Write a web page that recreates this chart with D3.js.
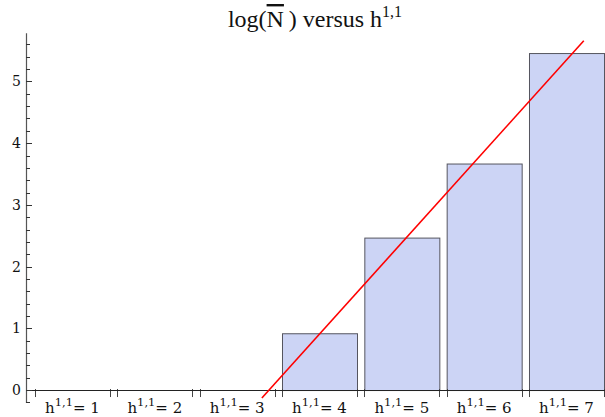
<!DOCTYPE html>
<html>
<head>
<meta charset="utf-8">
<script src="https://cdn.jsdelivr.net/npm/d3@7/dist/d3.min.js"></script>
<style>
  html, body { margin: 0; padding: 0; background: #fff; }
  svg { display: block; }
</style>
</head>
<body>
<svg id="chart" width="605" height="417"></svg>
<script>
// ---- data ----
const categories = [1, 2, 3, 4, 5, 6, 7];          // h^{1,1}
const logNbar = [0, 0, 0, 0.92, 2.47, 3.67, 5.46];  // bar heights
const fitLineH = [3.30, 7.21];                      // fit line endpoints (h)
const fitLineY = [-0.13, 5.66];                     // fit line endpoints (value)
const yTickValues = [0, 1, 2, 3, 4, 5];
const yTickLabels = ["0", "1", "2", "3", "4", "5"];
const xLabelPrefix = "h";
const xLabelSup = "1,1";

// ---- layout ----
const W = 605, H = 417;
const axisX = 26;
const FONT = "'DejaVu Serif', serif";
const TFONT = "'Liberation Serif', 'Times New Roman', serif";
const svg = d3.select("#chart");

const x = d3.scaleBand()
  .domain(categories)
  .range([35, 604])
  .paddingInner(0.089)
  .paddingOuter(0);

const bw = x.bandwidth();
const xLin = d3.scaleLinear()
  .domain([categories[0], categories[categories.length - 1]])
  .range([x(categories[0]) + bw / 2, x(categories[categories.length - 1]) + bw / 2]);

const y = d3.scaleLinear().domain([-0.21, 5.78]).range([403, 33.3]);

// ---- bars ----
const bars = categories.map((c, i) => ({ c, v: logNbar[i] }));
svg.append("g").selectAll("rect")
  .data(bars.filter(d => d.v > 0))
  .join("rect")
  .attr("x", d => x(d.c) + 0.5)
  .attr("y", d => y(d.v) + 0.5)
  .attr("width", bw)
  .attr("height", d => y(0) - y(d.v))
  .attr("fill", "#ccd4f5")
  .attr("stroke", "#55555f")
  .attr("stroke-width", 1);

// bar edge ticks
const edges = [];
categories.forEach(c => { edges.push(x(c)); edges.push(x(c) + bw); });
svg.append("g").selectAll("line")
  .data(edges)
  .join("line")
  .attr("x1", d => Math.round(d) + 0.5)
  .attr("x2", d => Math.round(d) + 0.5)
  .attr("y1", y(0) - 1)
  .attr("y2", y(0) + 7)
  .attr("stroke", "#444")
  .attr("stroke-width", 1);

// x axis line
svg.append("line")
  .attr("x1", axisX).attr("x2", W)
  .attr("y1", Math.round(y(0)) + 0.5).attr("y2", Math.round(y(0)) + 0.5)
  .attr("stroke", "#222").attr("stroke-width", 1);

// ---- y axis ----
const gy = svg.append("g");
gy.append("line")
  .attr("x1", axisX + 0.5).attr("x2", axisX + 0.5)
  .attr("y1", y.range()[1]).attr("y2", y.range()[0])
  .attr("stroke", "#555").attr("stroke-width", 1.2);

const minor = d3.range(-0.2, 5.7, 0.2).map(v => Math.round(v * 10) / 10)
  .filter(v => Math.abs(v - Math.round(v)) > 0.01);
gy.selectAll("line.minor").data(minor).join("line")
  .attr("class", "minor")
  .attr("x1", axisX).attr("x2", axisX + 4)
  .attr("y1", d => Math.round(y(d)) + 0.5).attr("y2", d => Math.round(y(d)) + 0.5)
  .attr("stroke", "#333").attr("stroke-width", 1);
gy.selectAll("line.major").data(yTickValues).join("line")
  .attr("class", "major")
  .attr("x1", axisX).attr("x2", axisX + 6)
  .attr("y1", d => Math.round(y(d)) + 0.5).attr("y2", d => Math.round(y(d)) + 0.5)
  .attr("stroke", "#333").attr("stroke-width", 1);
gy.selectAll("text").data(yTickValues).join("text")
  .attr("x", 21)
  .attr("y", d => y(d))
  .attr("dy", "0.36em")
  .attr("text-anchor", "end")
  .attr("font-family", FONT)
  .attr("font-size", 14)
  .attr("fill", "#111")
  .text((d, i) => yTickLabels[i]);

// ---- x labels ----
const gx = svg.append("g");
categories.forEach(c => {
  const t = gx.append("text")
    .attr("x", x(c) + bw / 2)
    .attr("y", 413)
    .attr("text-anchor", "middle")
    .attr("font-family", FONT)
    .attr("fill", "#111")
    .attr("font-size", 15);
  t.append("tspan").text(xLabelPrefix);
  t.append("tspan").attr("dy", -7).attr("font-size", 11.5).text(xLabelSup);
  t.append("tspan").attr("dy", 7).text("= " + c);
});

// ---- fit line ----
const fitPts = fitLineH.map((h, i) => [xLin(h), y(fitLineY[i])]);
svg.append("path")
  .attr("d", d3.line()(fitPts))
  .attr("fill", "none")
  .attr("stroke", "#ff0000")
  .attr("stroke-width", 1.6);

// ---- title ----
const title = svg.append("text")
  .attr("x", 315)
  .attr("y", 27)
  .attr("text-anchor", "middle")
  .attr("font-family", TFONT)
  .attr("fill", "#111")
  .attr("font-size", 24);
title.append("tspan").text("log(");
title.append("tspan").style("text-decoration", "overline").text("N");
title.append("tspan").text("\u2009) versus h");
title.append("tspan").attr("dy", -10).attr("font-size", 16).text("1,1");
</script>
</body>
</html>
